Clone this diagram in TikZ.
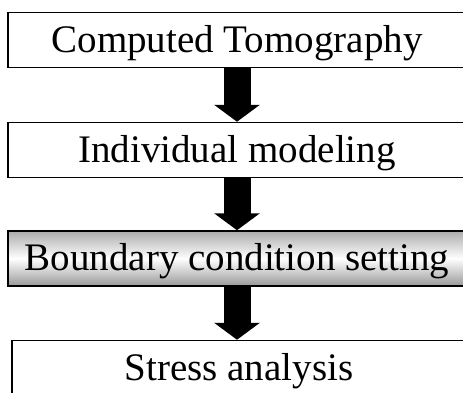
\documentclass[tikz,border=0pt]{standalone}
\usepackage{fontspec}
\setmainfont{Liberation Serif}
\usetikzlibrary{arrows.meta,positioning}

\begin{document}
\begin{tikzpicture}[x=1pt, y=1pt,
  stagebox/.style={rectangle, draw, line width=1.5pt, minimum width=458pt, minimum height=55pt,
    inner sep=0pt, text height=28pt, text depth=4pt, font=\fontsize{39}{44}\selectfont},
  arr/.style={-{Triangle[width=45pt, length=17pt]}, line width=27pt, black}
]
  \useasboundingbox (0,0) rectangle (463,392);
  \clip (0,0) rectangle (463,392);

  \node[stagebox] (ct) at (237,352)   {Computed Tomography};
  \node[stagebox] (im) at (237,242)   {Individual modeling};
  \node[stagebox, top color=gray!65, bottom color=gray!80, middle color=white]
                  (bc) at (237,133.5) {Boundary condition setting};
  \node[stagebox, minimum width=454pt] (sa) at (239,24) {Stress analysis};

  \draw[arr] (ct.south) -- (im.north);
  \draw[arr] (im.south) -- (bc.north);
  \draw[arr] (bc.south) -- (bc.south |- sa.north);
\end{tikzpicture}
\end{document}
